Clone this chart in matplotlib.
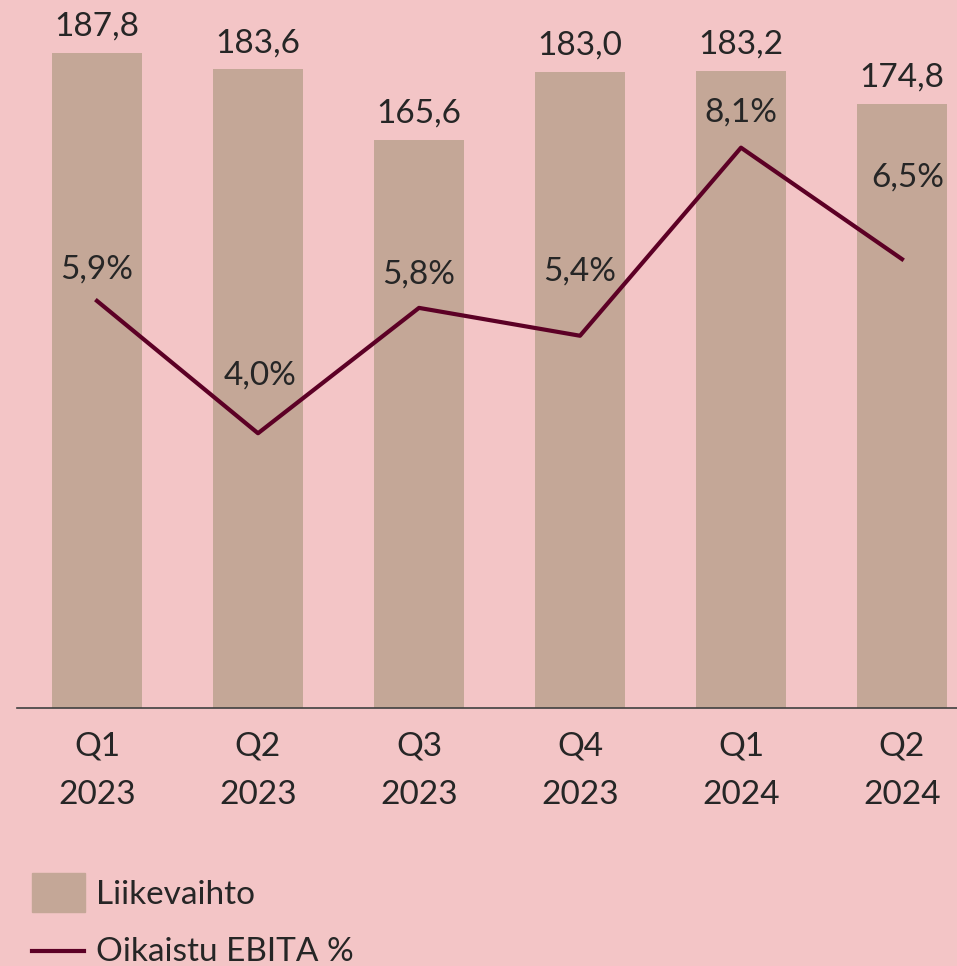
import matplotlib.pyplot as plt
from matplotlib.patches import Rectangle
from matplotlib.lines import Line2D

quarters = ["Q1\n2023", "Q2\n2023", "Q3\n2023", "Q4\n2023", "Q1\n2024", "Q2\n2024"]
liikevaihto = [187.8, 183.6, 165.6, 183.0, 183.2, 174.8]
ebita_pct = [5.9, 4.0, 5.8, 5.4, 8.1, 6.5]

# where the % labels sit relative to their points (pixels), as in the original
pct_offsets = [(0, 31), (2, 58), (0, 33), (0, 64), (0, 35), (6, 82)]

bg = "#F3C5C6"
bar_c = "#C4A797"
line_c = "#5C0025"
txt_c = "#262626"

plt.rcParams['font.family'] = ['Lato', 'DejaVu Sans']

W, H = 957, 966
fig = plt.figure(figsize=(W / 100, H / 100), dpi=100, facecolor=bg)
ax = fig.add_axes([16.5 / W, (H - 708) / H, 966 / W, 708 / H])
ax.set_facecolor(bg)

x = range(len(quarters))
ax.bar(x, liikevaihto, width=0.553, color=bar_c, zorder=2)
ax.set_xlim(-0.5, 5.5)
ax.set_ylim(20.7, 201.3)

for i, v in enumerate(liikevaihto):
    ax.annotate(f"{v:.1f}".replace(".", ","), (i, v), xytext=(0, 26),
                textcoords='offset pixels', ha='center', va='center',
                fontsize=24, color=txt_c)

for s in ['top', 'right', 'left']:
    ax.spines[s].set_visible(False)
ax.spines['bottom'].set_color('#404040')
ax.spines['bottom'].set_linewidth(1.2)
ax.set_yticks([])
ax.set_xticks(list(x))
ax.set_xticklabels(quarters, fontsize=24, color=txt_c, linespacing=1.75)
ax.tick_params(axis='x', length=0, pad=17)

ax2 = ax.twinx()
ax2.plot(x, ebita_pct, color=line_c, lw=3, zorder=3)
ax2.set_ylim(0.056, 10.22)
ax2.set_yticks([])
for s in ax2.spines.values():
    s.set_visible(False)

for i, v in enumerate(ebita_pct):
    dx, dy = pct_offsets[i]
    ax2.annotate(f"{v:.1f}%".replace(".", ","), (i, v), xytext=(dx, dy),
                 textcoords='offset pixels', ha='center', va='center',
                 fontsize=24, color=txt_c)

# legend drawn by hand
fig.add_artist(Rectangle((32 / W, 1 - 912 / H), 53 / W, 39 / H,
                         transform=fig.transFigure, color=bar_c))
fig.text(96 / W, 1 - 895 / H, "Liikevaihto", fontsize=24, color=txt_c, va='center')
fig.add_artist(Line2D([32 / W, 84 / W], [1 - 951 / H, 1 - 951 / H],
                      transform=fig.transFigure, color=line_c, lw=3))
fig.text(96 / W, 1 - 952 / H, "Oikaistu EBITA %", fontsize=24, color=txt_c, va='center')

fig.savefig("out.png", dpi=100, facecolor=bg)
